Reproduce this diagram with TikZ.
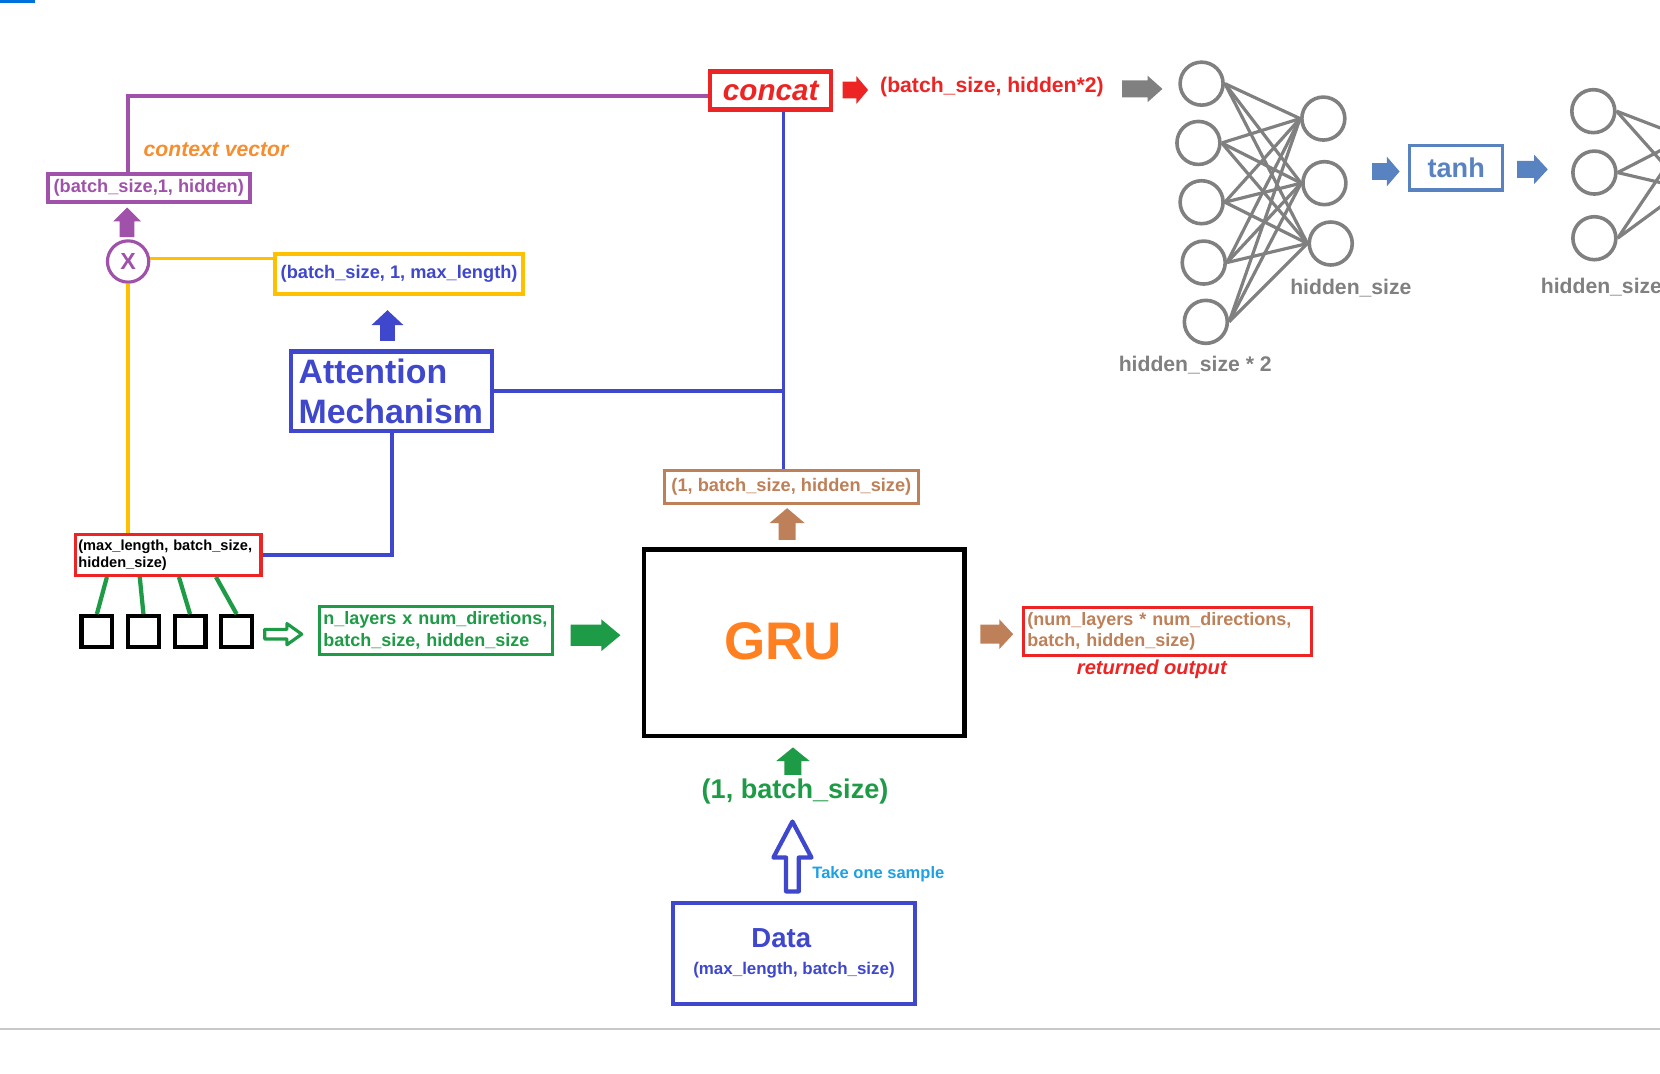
\documentclass[tikz,border=0pt]{standalone}
\usepackage{fontspec}
\setmainfont{Liberation Sans}
\usetikzlibrary{calc}

\definecolor{cpurple}{RGB}{160,82,170}
\definecolor{corange}{RGB}{246,142,48}
\definecolor{cyellow}{RGB}{255,192,0}
\definecolor{cblue}{RGB}{63,72,204}
\definecolor{cred}{RGB}{237,36,36}
\definecolor{cgreen}{RGB}{30,155,70}
\definecolor{cbrown}{RGB}{190,128,88}
\definecolor{cgru}{RGB}{255,128,32}
\definecolor{csteel}{RGB}{88,130,192}
\definecolor{cgray}{RGB}{128,128,128}
\definecolor{csky}{RGB}{30,160,228}
\definecolor{cbar}{RGB}{0,112,220}
\definecolor{csep}{RGB}{200,200,200}

% font size helper: size and baseline skip in pt
\newcommand\fsz[2]{\fontsize{#1pt}{#2pt}\selectfont}

% block arrow: style, tip, angle, length, head length, half head width, half shaft width
\newcommand\blockarrow[7]{%
  \path[line join=round,#1,shift={#2},rotate=#3]
    (0,0) -- (-#5,#6) -- (-#5,#7) -- (-#4,#7) -- (-#4,-#7) -- (-#5,-#7) -- (-#5,-#6) -- cycle;}

\tikzset{
  tbox/.style={draw, line width=2pt, inner sep=0pt, align=center},
  neuron/.style={circle, draw=cgray, line width=1.7pt, minimum size=20.3pt, inner sep=0pt},
  edge/.style={draw=cgray, line width=1.5pt},
  cell/.style={draw, line width=2pt, minimum size=14.5pt, inner sep=0pt},
  purpleline/.style={draw=cpurple, line width=2pt},
  blueline/.style={draw=cblue, line width=1.75pt},
  yellowline/.style={draw=cyellow, line width=1.6pt},
  greenline/.style={draw=cgreen, line width=2pt},
}

\begin{document}
\begin{tikzpicture}[x=0.5pt, y=-0.5pt]
\useasboundingbox (0,0) rectangle (1568,1014);
\fill[white] (0,0) rectangle (1568,1014);
\clip (0,0) rectangle (1568,1014);

% small bar in the corner and the bottom separator
\fill[cbar] (0,0) rectangle (33,3);
\draw[csep, line width=0.75pt] (0,972) -- (1568,972);

% ---------- boxes ----------
\node[tbox, draw=cred, text=cred, minimum width=57pt, minimum height=18pt,
      font=\bfseries\itshape\fsz{14}{17}] (concat) at (728,85.5) {concat};
\node[tbox, draw=cpurple, text=cpurple, minimum width=95.5pt, minimum height=13.5pt,
      font=\bfseries\fsz{8.6}{10}] (ctx) at (140.5,177.5) {(batch\_size,1, hidden)};
\node[circle, draw=cpurple, line width=1.5pt, minimum size=19.5pt, inner sep=0pt,
      text=cpurple, font=\bfseries\fsz{11}{13}] (mult) at (121,247) {X};
\node[tbox, draw=cyellow, text=cblue, minimum width=117pt, minimum height=19pt,
      font=\bfseries\fsz{8.6}{10}] (yb) at (377,259) {(batch\_size, 1, max\_length)};
\node[tbox, draw=cblue, text=cblue, minimum width=95pt, minimum height=37.5pt,
      text width=88pt, align=left, font=\bfseries\fsz{16}{19}] (att) at (370,369.5) {Attention\\Mechanism};
\node[tbox, line width=1.5pt, draw=cred, text=black, minimum width=87.5pt, minimum height=19.5pt,
      text width=85pt, align=left, font=\bfseries\fsz{6.9}{8}] (enc) at (159,524) {(max\_length, batch\_size,\\hidden\_size)};
\node[tbox, line width=1.5pt, draw=cgreen, text=cgreen, minimum width=110pt, minimum height=23pt,
      text width=106pt, align=left, font=\bfseries\fsz{8.5}{10.5}] (gb) at (411.5,595.5) {n\_layers x num\_diretions,\\batch\_size, hidden\_size};
\node[draw, line width=2pt, minimum width=151.5pt, minimum height=88pt, inner sep=0pt] (gru) at (759.5,607) {};
\node[text=cgru, font=\bfseries\fsz{25}{30}] (grulab) at ($(gru.center)+(-20,-1)$) {GRU};
\node[tbox, line width=1.5pt, draw=cbrown, text=cbrown, minimum width=120pt, minimum height=15.5pt,
      font=\bfseries\fsz{8.6}{10}] (hid) at (747.5,460) {(1, batch\_size, hidden\_size)};
\node[tbox, line width=1.5pt, draw=cred, text=cbrown, minimum width=136pt, minimum height=23pt,
      text width=132pt, align=left, font=\bfseries\fsz{8.5}{10}] (out) at (1102.5,596.5) {(num\_layers * num\_directions,\\batch, hidden\_size)};
\node[tbox, draw=cblue, text=cblue, minimum width=114pt, minimum height=47.5pt,
      font=\bfseries] (data) at (750,900.5)
      {\fsz{13}{15}\hspace*{-12pt}Data\\[0.5pt]\fsz{8}{10}(max\_length, batch\_size)};
\node[tbox, line width=1.5pt, draw=csteel, text=csteel, minimum width=44pt, minimum height=21pt,
      font=\bfseries\fsz{12.8}{15}] (tanh) at (1375.5,158.5) {tanh};

% ---------- free labels ----------
\node[text=corange, font=\bfseries\itshape\fsz{10}{12}] (cvlab) at (204,141) {context vector};
\node[text=cred, font=\bfseries\fsz{10}{12}] (catshape) at (937,82) {(batch\_size, hidden*2)};
\node[text=cred, font=\bfseries\itshape\fsz{9.5}{11}] (retlab) at (1088,632) {returned output};
\node[text=cgreen, font=\bfseries\fsz{12.8}{15}] (inshape) at (751,748) {(1, batch\_size)};
\node[text=csky, font=\bfseries\fsz{7.8}{9}, anchor=west, inner sep=0pt] (take) at (767,826) {Take one sample};

% ---------- sequence cells ----------
\node[cell] (s1) at (91.5,596.5) {};
\node[cell] (s2) at (135.5,596.5) {};
\node[cell] (s3) at (179.5,596.5) {};
\node[cell] (s4) at (223.5,596.5) {};

% ---------- connectors ----------
\draw[purpleline] (mult |- ctx.north) |- ([yshift=-2.75pt]concat.west);
\coordinate (bx) at (740,0);
\draw[blueline] (concat.south -| bx) -- (hid.north -| bx);
\draw[blueline] (att.east) -- (att.east -| bx);
\draw[blueline] (att.south) |- (enc.east);
\draw[yellowline] ([yshift=1.5pt]mult.east) -- ([yshift=1.5pt]mult.east -| yb.west);
\draw[yellowline] (mult.south) -- (mult.south |- enc.north);
\draw[greenline] ($(enc.south west)+(31,0)$) -- (s1.north);
\draw[greenline] ($(enc.south west)+(62,0)$) -- (s2.north);
\draw[greenline] ($(enc.south west)+(99,0)$) -- (s3.north);
\draw[greenline] ($(enc.south west)+(134,0)$) -- (s4.north);

% ---------- block arrows ----------
\blockarrow{fill=cpurple}{(120,196)}{90}{28}{13}{13}{7}
\blockarrow{fill=cblue}{(366,293)}{90}{29}{14}{15}{7}
\blockarrow{fill=cred}{(820,85)}{0}{24}{11}{13}{8}
\blockarrow{fill=cgray}{(1098,84)}{0}{38}{14}{12.5}{8}
\blockarrow{fill=csteel}{(1322,162)}{0}{26}{12}{14}{8}
\blockarrow{fill=csteel}{(1462,160)}{0}{29}{13}{14}{8}
\blockarrow{draw=cgreen, line width=1.5pt}{(285,599)}{0}{35}{14}{10}{4.5}
\blockarrow{fill=cgreen}{(586,600)}{0}{47}{18}{15}{10}
\blockarrow{fill=cbrown}{(743.5,480)}{90}{30}{14}{16.5}{8}
\blockarrow{fill=cbrown}{(957,599)}{0}{31}{13}{14}{9}
\blockarrow{fill=cgreen}{(749,706)}{90}{26}{13}{16}{8}
\blockarrow{draw=cblue, line width=2pt, fill=white}{(748.5,776)}{90}{66}{34}{18}{6}

% ---------- dense layer: hidden_size*2 -> hidden_size ----------
\node[neuron] (n1) at (1135,79) {};
\node[neuron] (n2) at (1132,135) {};
\node[neuron] (n3) at (1135,191) {};
\node[neuron] (n4) at (1137,248) {};
\node[neuron] (n5) at (1139,304) {};
\node[neuron] (m1) at (1250,112) {};
\node[neuron] (m2) at (1251,173) {};
\node[neuron] (m3) at (1257,230) {};
\foreach \i in {1,...,5}{
  \foreach \j in {1,2,3}{
    \draw[edge] (n\i.east) -- (m\j.west);
  }
}
\node[text=cgray, font=\bfseries\fsz{10}{12}] (nlab1) at (1129,345) {hidden\_size * 2};
\node[text=cgray, font=\bfseries\fsz{10}{12}] (nlab2) at (1276,272) {hidden\_size};

% ---------- next layer, running off the right edge ----------
\node[neuron] (k1) at (1505,105) {};
\node[neuron] (k2) at (1506,163) {};
\node[neuron] (k3) at (1506,225) {};
\coordinate (t1) at (1592,130);
\coordinate (t2) at (1592,178);
\foreach \i in {1,2,3}{
  \draw[edge] (k\i.east) -- (t1);
  \draw[edge] (k\i.east) -- (t2);
}
\node[text=cgray, font=\bfseries\fsz{10}{12}, anchor=west, inner sep=0pt] (nlab3) at (1455,271) {hidden\_size};
\end{tikzpicture}
\end{document}
